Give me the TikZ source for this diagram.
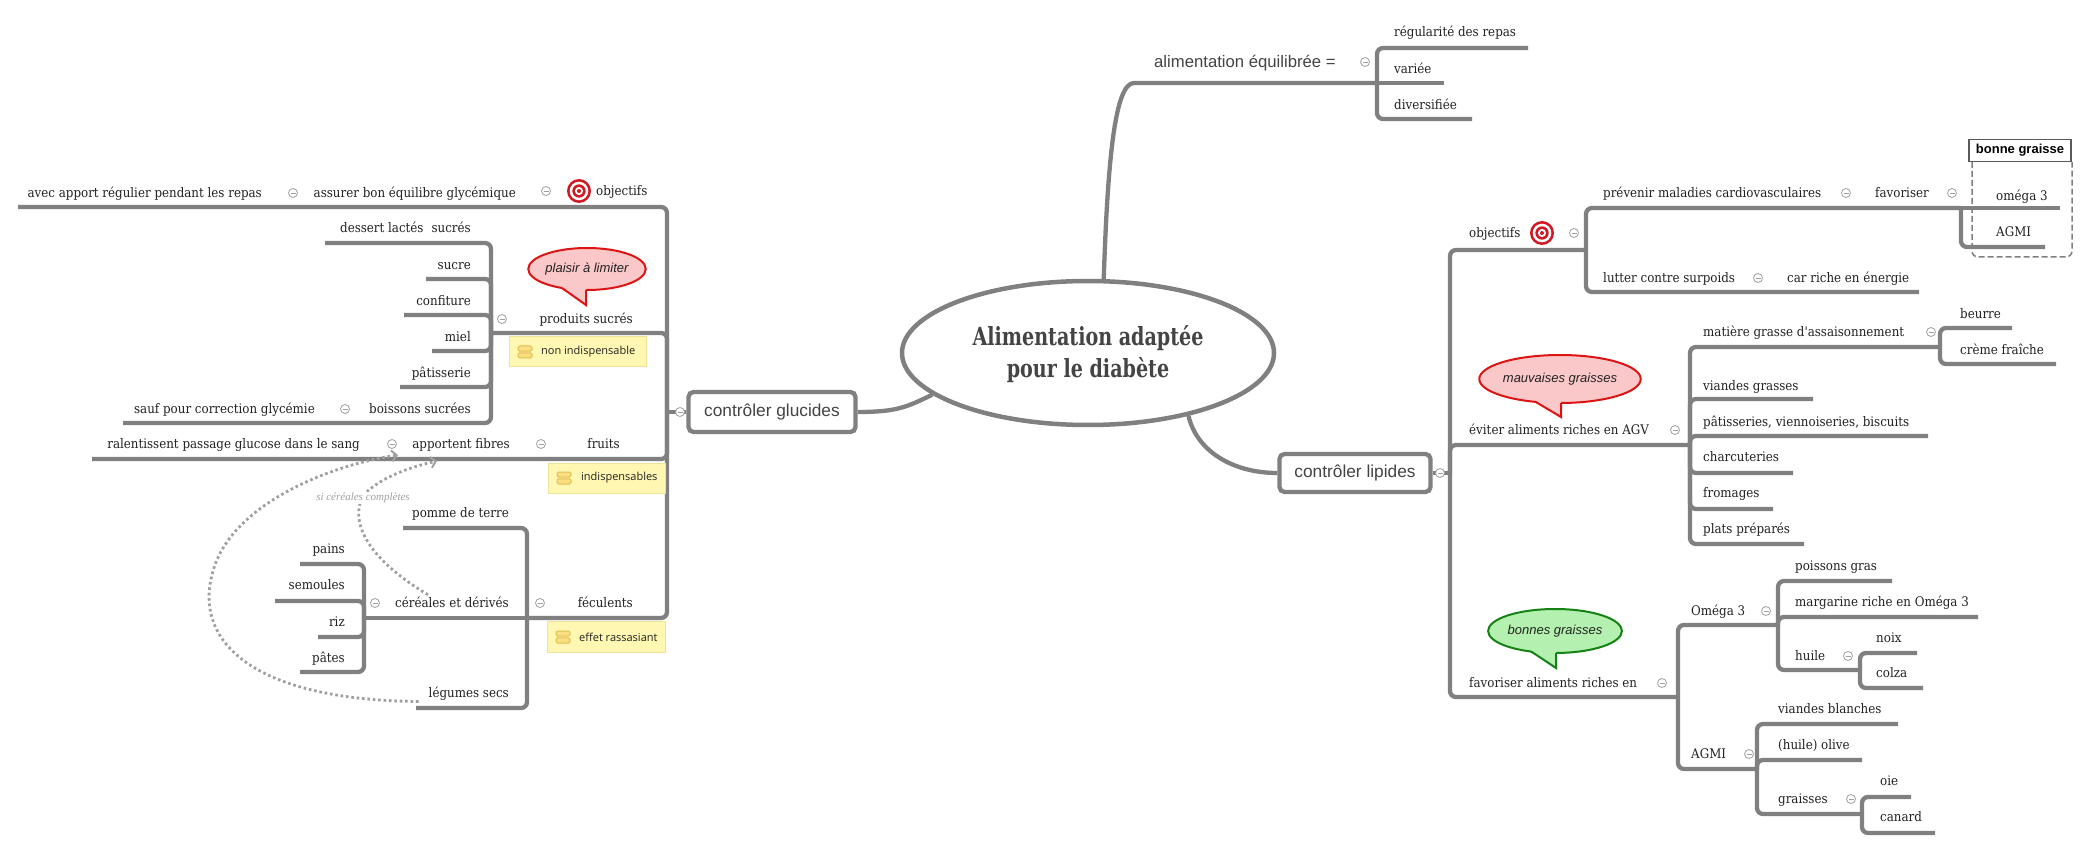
\documentclass[tikz,border=0pt]{standalone}
\usepackage{fontspec}
\usepackage{graphicx}
\usetikzlibrary{shapes.geometric,arrows.meta}
\IfFontExistsTF{DejaVu Serif Condensed}{\newfontfamily\slab{DejaVu Serif Condensed}\def\nfs{13.2}\def\tfs{25}\def\tsc{0.85}}{\newfontfamily\slab{DejaVu Serif}\def\nfs{11.8}\def\tfs{23}\def\tsc{0.84}}
\newfontfamily\sansf{Liberation Sans}
\newfontfamily\notef{Open Sans}
\newfontfamily\scriptf{Liberation Serif}
\definecolor{lg}{RGB}{128,128,128}
\definecolor{tx}{RGB}{34,34,34}
\definecolor{ttl}{RGB}{68,68,68}
\definecolor{nfill}{RGB}{255,247,178}
\definecolor{nborder}{RGB}{238,226,150}
\definecolor{pinkf}{RGB}{250,200,200}
\definecolor{redb}{RGB}{220,20,20}
\definecolor{greenf}{RGB}{180,240,175}
\definecolor{greenb}{RGB}{20,130,20}
\definecolor{dotc}{RGB}{160,160,160}
\definecolor{tred}{RGB}{210,25,35}
\definecolor{iconf}{RGB}{250,222,130}
\definecolor{iconb}{RGB}{228,190,80}
\definecolor{colc}{RGB}{160,160,160}
\tikzset{
  br/.style={draw=lg, line width=4.3, rounded corners=6},
  txbase/.style={font=\slab\fontsize{\nfs}{\nfs}\selectfont, text=tx, inner sep=0},
  txw/.style={txbase, anchor=base west, yshift=-4.5pt},
  txe/.style={txbase, anchor=base east, yshift=-4.5pt},
  sansw/.style={font=\sansf\fontsize{16.7}{16.7}\selectfont, text=ttl, inner sep=0, anchor=base west, yshift=-5.5pt},
  notebox/.style={draw=nborder, line width=1, fill=nfill, inner sep=0},
  notetx/.style={font=\notef\fontsize{11}{11}\selectfont, text=tx, inner sep=0, anchor=west},
  callout/.style={ellipse, line width=2, inner sep=0, font=\sansf\itshape\fontsize{13}{13}\selectfont, text=tx},
  topicbox/.style={draw=lg, line width=4.3, rounded corners=5, fill=white, font=\sansf\fontsize{17.3}{17.3}\selectfont, text=ttl},
  dotarrow/.style={draw=dotc, line width=2.8, dash pattern=on 2.6pt off 2.8pt, -{Straight Barb[length=5pt,width=11pt,line width=2pt]}},
  colp/.pic={\draw[draw=colc, fill=white, line width=0.8] (0,0) circle (4.5); \draw[colc, line width=0.8] (-2.5,0)--(2.5,0);},
  tgticon/.pic={\fill[tred] (0,0) circle (12); \fill[white] (0,0) circle (9.3); \fill[tred] (0,0) circle (6.7); \fill[white] (0,0) circle (4.1); \fill[tred] (0,0) circle (2);},
  noteicon/.pic={\draw[fill=iconf, draw=iconb, line width=1, rounded corners=1.5] (-7,-6) rectangle (7,-0.8); \draw[fill=iconf, draw=iconb, line width=1, rounded corners=1.5] (-7,0.8) rectangle (7,6);}
}
\begin{document}
\begin{tikzpicture}[x=1pt,y=-1pt]
\useasboundingbox (0,0) rectangle (2089,850);
\fill[white] (0,0) rectangle (2089,850);

% ---------- central topic and main boxes ----------
\node[ellipse, draw=lg, line width=4.5, fill=white, minimum width=372pt, minimum height=144pt, inner sep=0] (ctr) at (1088,353) {};
\node[topicbox, minimum width=167pt, minimum height=40pt] (glu) at (772,412) {contrôler glucides};
\node[topicbox, minimum width=151pt, minimum height=38pt] (lip) at (1355,473) {contrôler lipides};

\draw[br] (ctr.78) .. controls +(4,-120) and +(-25,0) .. (1140,83) -- (1377,83);
\draw[br] (ctr.195) .. controls +(-25,12) and +(40,0) .. (glu.east);
\draw[br] (ctr.328) .. controls +(8,35) and +(-45,0) .. (lip.west);

\node[font=\slab\bfseries\fontsize{\tfs}{32}\selectfont, text=ttl, align=center] (ttl) at (1088,354) {\scalebox{\tsc}[1]{Alimentation adaptée}\\\scalebox{\tsc}[1]{pour le diabète}};

% ---------- top branch ----------
\foreach \y/\x in {48/1528,119/1472} \draw[br] (1377,83)--(1377,\y)--(\x,\y);
\draw[br] (1377,83)--(1444,83);
\node[sansw] (aeq) at (1154,62) {alimentation équilibrée =};
\node[txw] (reg) at (1394,32) {régularité des repas};
\node[txw] (var) at (1394,69) {variée};
\node[txw] (div) at (1394,105) {diversifiée};
\pic at (1365,62) {colp};

% ---------- right: contrôler lipides ----------
\coordinate (lt) at (1450,473);
\draw[br] (lip.east) -- (lt);
\draw[br] (lt) -- (1450,250) -- (1586,250);
\draw[br] (lt) -- (1450,445) -- (1690,445);
\draw[br] (lt) -- (1450,697) -- (1678,697);
\draw[br] (1586,250)--(1586,208)--(1961,208);
\draw[br] (1586,250)--(1586,292)--(1919,292);
\draw[br] (1961,208)--(2060,208);
\draw[br] (1961,208)--(1961,247)--(2045,247);
\foreach \y/\x in {347/1940,399/1813,436/1928,473/1793,509/1773,544/1804} \draw[br] (1690,445)--(1690,\y)--(\x,\y);
\foreach \y/\x in {328/2012,364/2056} \draw[br] (1940,347)--(1940,\y)--(\x,\y);
\draw[br] (1678,697)--(1678,625)--(1778,625);
\draw[br] (1678,697)--(1678,769)--(1757,769);
\foreach \y/\x in {581/1892,617/1978,670/1860} \draw[br] (1778,625)--(1778,\y)--(\x,\y);
\foreach \y/\x in {653/1917,688/1923} \draw[br] (1860,670)--(1860,\y)--(\x,\y);
\foreach \y/\x in {724/1898,760/1862,814/1862} \draw[br] (1757,769)--(1757,\y)--(\x,\y);
\foreach \y/\x in {797/1911,833/1935} \draw[br] (1862,814)--(1862,\y)--(\x,\y);

% boundary "bonne graisse"
\draw[lg, line width=1.5, dash pattern=on 6pt off 3pt, rounded corners=6] (1972,162) -- (1972,257) -- (2072,257) -- (2072,162);
\node[draw=lg!70!black, line width=1.5, fill=white, minimum width=102pt, minimum height=22pt, inner sep=0, font=\sansf\bfseries\fontsize{13}{13}\selectfont] (bg) at (2020,150.5) {bonne graisse};

\node[txw] (objR) at (1469,233) {objectifs};
\pic at (1542,233) {tgticon};
\node[txw] (prev) at (1603,193) {prévenir maladies cardiovasculaires};
\node[txw] (fav) at (1875,193) {favoriser};
\node[txw] (om3) at (1996,196) {oméga 3};
\node[txw] (agmiA) at (1996,232) {AGMI};
\node[txw] (lut) at (1603,278) {lutter contre surpoids};
\node[txw] (car) at (1787,278) {car riche en énergie};
\node[txw] (evi) at (1469,430) {éviter aliments riches en AGV};
\node[txw] (mat) at (1703,332) {matière grasse d\textquotesingle assaisonnement};
\node[txw] (beu) at (1960,314) {beurre};
\node[txw] (cre) at (1960,350) {crème fraîche};
\node[txw] (via) at (1703,386) {viandes grasses};
\node[txw] (pat) at (1703,422) {pâtisseries, viennoiseries, biscuits};
\node[txw] (cha) at (1703,457) {charcuteries};
\node[txw] (fro) at (1703,493) {fromages};
\node[txw] (pla) at (1703,529) {plats préparés};
\node[txw] (favA) at (1469,683) {favoriser aliments riches en};
\node[txw] (Om) at (1691,611) {Oméga 3};
\node[txw] (poi) at (1795,566) {poissons gras};
\node[txw] (mar) at (1795,602) {margarine riche en Oméga 3};
\node[txw] (hui) at (1795,656) {huile};
\node[txw] (noi) at (1876,638) {noix};
\node[txw] (col) at (1876,673) {colza};
\node[txw] (agmiB) at (1691,754) {AGMI};
\node[txw] (vib) at (1778,709) {viandes blanches};
\node[txw] (oli) at (1778,745) {(huile) olive};
\node[txw] (gra) at (1778,799) {graisses};
\node[txw] (oie) at (1880,781) {oie};
\node[txw] (can) at (1880,817) {canard};

\foreach \p in {(1440,473),(1574,233),(1846,193),(1952,193),(1758,278),(1675,430),(1931,332),(1662,683),(1766,611),(1848,656),(1749,754),(1851,799)} \pic at \p {colp};

% callouts right
\node[callout, draw=redb, fill=pinkf, minimum width=146pt, minimum height=48pt] (mg) at (1560,379) {mauvaises graisses};
\fill[pinkf] (1535,394) -- (1535,401.5) -- (1561,417) -- (1561,394) -- cycle;
\draw[redb, line width=2] (1535,401.5) -- (1561,417) -- (1561,403);
\node[callout, draw=greenb, fill=greenf, minimum width=130pt, minimum height=44pt] (bgc) at (1555,631) {bonnes graisses};
\fill[greenf] (1531,645) -- (1531,651.4) -- (1556,668) -- (1556,645) -- cycle;
\draw[greenb, line width=2] (1531,651.4) -- (1556,668) -- (1556,653);

% ---------- left: contrôler glucides ----------
\coordinate (gt) at (667,412);
\draw[br] (glu.west) -- (gt);
\draw[br] (gt) -- (667,207) -- (18,207);
\draw[br] (gt) -- (667,333) -- (491,333);
\draw[br] (gt) -- (667,459) -- (92,459);
\draw[br] (gt) -- (667,618) -- (527,618);
\foreach \y/\x in {243/325,279/426,315/404,351/432,387/400,423/123} \draw[br] (491,333)--(491,\y)--(\x,\y);
\foreach \y/\x in {528/403,708/416} \draw[br] (527,618)--(527,\y)--(\x,\y);
\draw[br] (527,618)--(364,618);
\foreach \y/\x in {564/300,601/275,637/318,672/300} \draw[br] (364,618)--(364,\y)--(\x,\y);

\node[txw] (objL) at (596,191) {objectifs};
\pic at (579,191) {tgticon};
\node[txe] (ass) at (516,193) {assurer bon équilibre glycémique};
\node[txe] (avec) at (262,193) {avec apport régulier pendant les repas};
\node[txe] (pro) at (633,319) {produits sucrés};
\node[txe] (des) at (471,228) {dessert lactés\hspace{8pt}sucrés};
\node[txe] (suc) at (471,265) {sucre};
\node[txe] (con) at (471,301) {confiture};
\node[txe] (mie) at (471,337) {miel};
\node[txe] (pas) at (471,373) {pâtisserie};
\node[txe] (boi) at (471,409) {boissons sucrées};
\node[txe] (sau) at (315,409) {sauf pour correction glycémie};
\node[txe] (fru) at (620,444) {fruits};
\node[txe] (apf) at (510,444) {apportent fibres};
\node[txe] (ral) at (360,444) {ralentissent passage glucose dans le sang};
\node[txe] (fec) at (633,603) {féculents};
\node[txe] (pom) at (509,513) {pomme de terre};
\node[txe] (cer) at (509,603) {céréales et dérivés};
\node[txe] (leg) at (509,693) {légumes secs};
\node[txe] (pai) at (345,549) {pains};
\node[txe] (sem) at (345,585) {semoules};
\node[txe] (riz) at (345,622) {riz};
\node[txe] (pae) at (345,658) {pâtes};

\foreach \p in {(680,412),(546,191),(293,193),(502,319),(345,409),(541,444),(392,444),(540,603),(375,603)} \pic at \p {colp};

% notes
\node[notebox, minimum width=137pt, minimum height=30pt] (n1) at (577.5,352) {};
\pic at (525,352) {noteicon};
\node[notetx] (n1t) at (541,352) {non indispensable};
\node[notebox, minimum width=117pt, minimum height=30pt] (n2) at (606.5,478) {};
\pic at (564,478) {noteicon};
\node[notetx] (n2t) at (581,478) {indispensables};
\node[notebox, minimum width=118pt, minimum height=31pt] (n3) at (606,636.5) {};
\pic at (563,637) {noteicon};
\node[notetx] (n3t) at (579,637) {effet rassasiant};

% callout left
\node[callout, draw=redb, fill=pinkf, minimum width=116pt, minimum height=42pt] (pl) at (587,269) {plaisir à limiter};
\fill[pinkf] (562,281) -- (562,288) -- (586,305) -- (586,281) -- cycle;
\draw[redb, line width=2] (562,288) -- (586,305) -- (586,290);

% relationships
\coordinate (a1e) at (398,455);
\coordinate (a2e) at (437,461);
\draw[dotarrow] ([xshift=-10pt,yshift=-4pt]leg.base west) .. controls (250,700) and (195,640) .. (212,575) .. controls (228,505) and (330,465) .. (a1e);
\draw[dotarrow] ([xshift=33pt,yshift=2pt]cer.north west) .. controls (370,560) and (350,525) .. (362,497) .. controls (378,478) and (410,467) .. (a2e);
\node[fill=white, inner sep=1pt, font=\scriptf\itshape\fontsize{11}{11}\selectfont, text=dotc] (lbl) at (363,498) {si céréales complètes};
\end{tikzpicture}
\end{document}
